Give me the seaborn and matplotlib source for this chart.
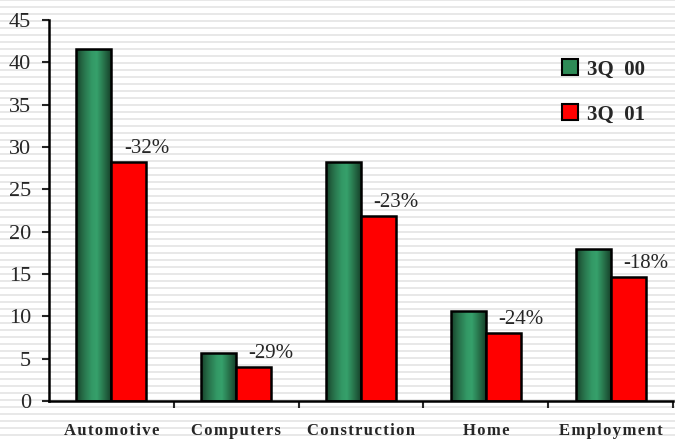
import numpy as np
import pandas as pd
import matplotlib
matplotlib.use("Agg")
import matplotlib.pyplot as plt
from matplotlib.colors import LinearSegmentedColormap
from matplotlib.lines import Line2D
import seaborn as sns

# 数据
categories = ["Automotive", "Computers", "Construction", "Home", "Employment"]
q3_00 = [41.6, 5.7, 28.2, 10.6, 17.9]
q3_01 = [28.2, 4.0, 21.8, 8.0, 14.6]
change_labels = ["-32%", "-29%", "-23%", "-24%", "-18%"]
series_names = ["3Q  00", "3Q  01"]
yticks = [0, 5, 10, 15, 20, 25, 30, 35, 40, 45]

df = pd.DataFrame({
    "category": categories * 2,
    "value": q3_00 + q3_01,
    "series": [series_names[0]] * len(categories) + [series_names[1]] * len(categories),
})

sns.set_style("white")
plt.rcParams["font.family"] = ["Liberation Serif", "DejaVu Serif"]

fig = plt.figure(figsize=(6.75, 4.4), dpi=100)
fig.patch.set_facecolor("white")

# 背景横条纹
bg = fig.add_axes([0, 0, 1, 1], zorder=-1)
rows = (np.arange(440) % 7 < 2).astype(float)
bg.imshow(rows[:, None], aspect="auto", cmap=LinearSegmentedColormap.from_list("bg", ["white", "#e8e8e8"]),
          extent=[0, 1, 0, 1], interpolation="nearest")
bg.axis("off")

ax = fig.add_axes([49 / 675, 39 / 440, 624 / 675, 381 / 440])
ax.set_facecolor("none")

sns.barplot(data=df, x="category", y="value", hue="series", hue_order=series_names,
            palette=["#2e8b57", "#ff0000"], width=0.56, edgecolor="black", linewidth=1.8,
            saturation=1, legend=False, ax=ax)

# 绿色柱子的圆柱渐变
green_cmap = LinearSegmentedColormap.from_list(
    "cyl", [(0, "#17432b"), (0.2, "#276f49"), (0.45, "#339966"), (0.6, "#36a06b"),
            (0.8, "#28744c"), (1, "#17432b")])
grad = np.linspace(0, 1, 64)[None, :]
for p in ax.containers[0]:
    x0, w, h = p.get_x(), p.get_width(), p.get_height()
    im = ax.imshow(grad, cmap=green_cmap, aspect="auto", extent=[x0, x0 + w, 0, h],
                   zorder=p.get_zorder() - 0.1, interpolation="bilinear")
    im.set_clip_path(p)
    p.set_facecolor("none")

# 百分比标签
for p, lab in zip(ax.containers[1], change_labels):
    ax.annotate(lab, (p.get_x(), p.get_height()), xytext=(9, 3), textcoords="offset points",
                ha="left", va="bottom", fontsize=15)

ax.set_xlim(-0.5, len(categories) - 0.5)
ax.set_ylim(0, 45)
ax.set_yticks(yticks)
ax.set_xlabel("")
ax.set_ylabel("")
sns.despine(ax=ax)
for s in ["left", "bottom"]:
    ax.spines[s].set_linewidth(1.8)
    ax.spines[s].set_color("black")

ax.tick_params(axis="y", length=5, width=1.5, pad=8, labelsize=16, left=True)
ax.set_xticks(range(len(categories)))
ax.set_xticklabels(["\u200a".join(c) for c in categories], fontweight="bold", fontsize=12)
ax.tick_params(axis="x", length=0, pad=16)
ax.set_xticks(np.arange(0.5, len(categories), 1), minor=True)
ax.tick_params(axis="x", which="minor", length=5, width=1.5, bottom=True)

handles = [Line2D([], [], marker="s", linestyle="", markersize=11, markerfacecolor="#2e8b57",
                  markeredgecolor="black", markeredgewidth=1.5),
           Line2D([], [], marker="s", linestyle="", markersize=11, markerfacecolor="#ff0000",
                  markeredgecolor="black", markeredgewidth=1.5)]
fig.legend(handles, series_names, loc="upper left", bbox_to_anchor=(543 / 675, 1 - 41 / 440),
           frameon=False, prop={"weight": "bold", "size": 15}, handlelength=0.8,
           handletextpad=0.4, labelspacing=1.2)

fig.savefig("out.png", dpi=100)
